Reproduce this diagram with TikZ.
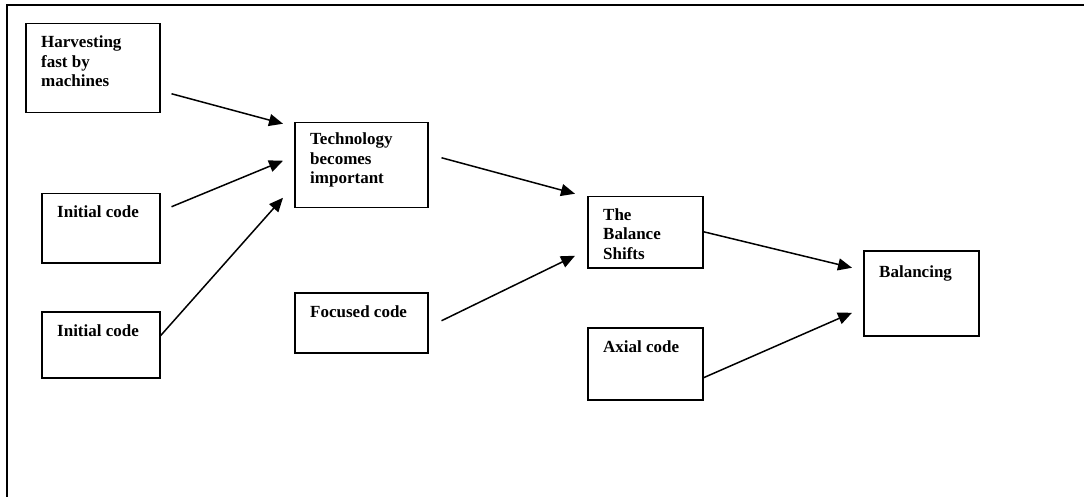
\documentclass[tikz,border=0pt]{standalone}
\usepackage{fontspec}
\setmainfont{Liberation Serif}
\usetikzlibrary{arrows.meta,calc}
\tikzset{
  box/.style={draw=black, line width=1.5pt, inner sep=0pt, anchor=north west},
  lbl/.style={inner sep=0pt, anchor=base west, align=left, font=\fontsize{17}{19.5}\selectfont\bfseries},
  arr/.style={line width=1.5pt, -{Triangle[length=14pt,width=12pt]}},
  frame/.style={line width=1.6pt}
}
\begin{document}
\begin{tikzpicture}[x=1pt,y=-1pt]
\useasboundingbox (0,0) rectangle (1084,497);
\draw[frame] (7,497) -- (7,5) -- (1084,5);
% boxes
\node[box, minimum width=134pt, minimum height=89pt] (harv) at (25,23) {};
\node[box, minimum width=118pt, minimum height=69pt] (init1) at (41,193) {};
\node[box, minimum width=118pt, minimum height=66pt] (init2) at (41,311) {};
\node[box, minimum width=133pt, minimum height=85pt] (tech) at (294,122) {};
\node[box, minimum width=133pt, minimum height=60pt] (focus) at (294,292) {};
\node[box, minimum width=115pt, minimum height=71pt] (bs) at (587,196) {};
\node[box, minimum width=115pt, minimum height=72pt] (axial) at (587,327) {};
\node[box, minimum width=115pt, minimum height=85pt] (bal) at (863,250) {};
% labels (base anchor = baseline of last line)
\node[lbl] (tharv) at ($(harv.north west)+(16,64)$) {Harvesting\\fast by\\machines};
\node[lbl] (tinit1) at ($(init1.north west)+(16,25)$) {Initial code};
\node[lbl] (tinit2) at ($(init2.north west)+(16,25)$) {Initial code};
\node[lbl] (ttech) at ($(tech.north west)+(16,62)$) {Technology\\becomes\\important};
\node[lbl] (tfocus) at ($(focus.north west)+(16,25)$) {Focused code};
\node[lbl] (tbs) at ($(bs.north west)+(16,63)$) {The\\Balance\\Shifts};
\node[lbl] (taxial) at ($(axial.north west)+(16,25)$) {Axial code};
\node[lbl] (tbal) at ($(bal.north west)+(16,27)$) {Balancing};
% arrows
\draw[arr] ($(harv.east)+(11,25.5)$) -- ($(tech.west)+(-11,-41.5)$);
\draw[arr] ($(init1.east)+(11,-21.5)$) -- ($(tech.west)+(-11,-4.5)$);
\draw[arr] ($(init2.east)+(0,-9)$) -- ($(tech.west)+(-11,32.5)$);
\draw[arr] ($(tech.east)+(13,-7.5)$) -- ($(bs.west)+(-12,-38.5)$);
\draw[arr] ($(focus.east)+(13,-2)$) -- ($(bs.west)+(-12,23.5)$);
\draw[arr] ($(bs.east)+(0,-0.5)$) -- ($(bal.west)+(-11,-25.5)$);
\draw[arr] ($(axial.east)+(0,14)$) -- ($(bal.west)+(-11,19.5)$);
\end{tikzpicture}
\end{document}
